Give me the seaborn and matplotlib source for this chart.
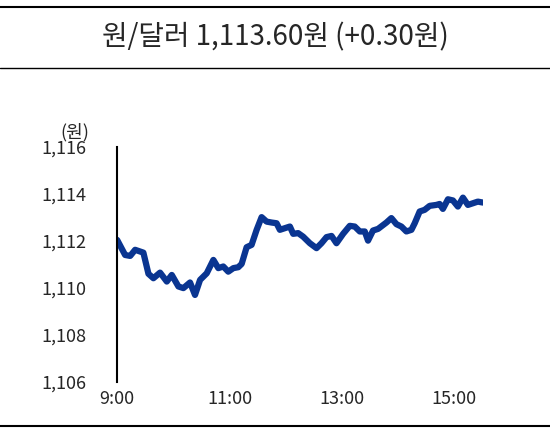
import matplotlib
matplotlib.use("Agg")
import matplotlib.pyplot as plt
import seaborn as sns
import pandas as pd

# minutes since 9:00 and KRW/USD rate
minutes = [0, 8.5, 13.9, 19.2, 28, 33.4, 38.7, 45.8, 53, 58.3, 65.4, 70.7, 77.8, 83.1,
           88.5, 95.6, 102.7, 108, 113.3, 118.6, 124, 129.3, 132.9, 138.2, 143.5, 148.9,
           154.2, 159.5, 164.9, 170.2, 173.7, 179, 184.4, 187.9, 193.2, 198.5, 205.7,
           212.8, 218.1, 223.5, 228.8, 234.1, 241.2, 248.3, 253.6, 259, 264.3, 267.8,
           273.1, 278.5, 287.4, 292.7, 298.1, 303.4, 308.7, 314.1, 317.6, 322.9, 328.2,
           333.6, 340.7, 344.2, 347.7, 353.1, 358.4, 363.7, 369.1, 374.4, 379.7, 385, 390.4]
rate = [1112.04, 1111.40, 1111.36, 1111.62, 1111.50, 1110.60, 1110.41, 1110.65, 1110.27,
        1110.55, 1110.06, 1109.99, 1110.23, 1109.70, 1110.34, 1110.62, 1111.19, 1110.84,
        1110.91, 1110.69, 1110.84, 1110.88, 1111.02, 1111.73, 1111.83, 1112.47, 1113.01,
        1112.82, 1112.78, 1112.75, 1112.47, 1112.54, 1112.61, 1112.30, 1112.33, 1112.18,
        1111.90, 1111.69, 1111.90, 1112.16, 1112.21, 1111.90, 1112.30, 1112.64, 1112.61,
        1112.40, 1112.40, 1112.01, 1112.44, 1112.51, 1112.78, 1112.97, 1112.71, 1112.61,
        1112.40, 1112.47, 1112.75, 1113.25, 1113.32, 1113.49, 1113.53, 1113.57, 1113.36,
        1113.77, 1113.72, 1113.46, 1113.84, 1113.53, 1113.60, 1113.67, 1113.63]
xtick_pos = [0, 120, 240, 360]
xtick_labels = ["9:00", "11:00", "13:00", "15:00"]
yticks = [1106, 1108, 1110, 1112, 1114, 1116]

df = pd.DataFrame({"min": minutes, "rate": rate})

sns.set_style("white")
plt.rcParams["font.family"] = ["Noto Sans CJK KR", "DejaVu Sans"]

fig = plt.figure(figsize=(5.5, 4.41), dpi=100)
ax = fig.add_axes([0.213, 0.134, 0.665, 0.533])
sns.lineplot(data=df, x="min", y="rate", ax=ax, color="#0a3591", linewidth=4.5)

ax.set_xlim(0, 390.4)
ax.set_ylim(1106, 1116)
ax.set_yticks(yticks)
ax.set_yticklabels([f"{v:,}" for v in yticks], fontsize=13)
ax.set_xticks(xtick_pos)
ax.set_xticklabels(xtick_labels, fontsize=13)
ax.set_xlabel("")
ax.set_ylabel("")
for s in ["top", "right", "bottom"]:
    ax.spines[s].set_visible(False)
ax.spines["left"].set_color("black")
ax.spines["left"].set_linewidth(1.5)
ax.tick_params(axis="y", direction="in", length=5, width=1.5, color="black", pad=22)
ax.tick_params(axis="x", length=0, pad=6)
ax.text(-0.115, 1.04, "(원)", transform=ax.transAxes, fontsize=13, ha="center")

# title box lines
fig.add_artist(plt.Line2D([0.0, 1.0], [0.985, 0.985], color="black", lw=1.5))
fig.add_artist(plt.Line2D([0.0, 1.0], [0.845, 0.845], color="black", lw=1))
fig.add_artist(plt.Line2D([0.0, 1.0], [0.035, 0.035], color="black", lw=1.5))
fig.text(0.5, 0.915, "원/달러 1,113.60원 (+0.30원)", ha="center", va="center",
         fontsize=20, fontweight="light")

fig.savefig("out.png", dpi=100)
